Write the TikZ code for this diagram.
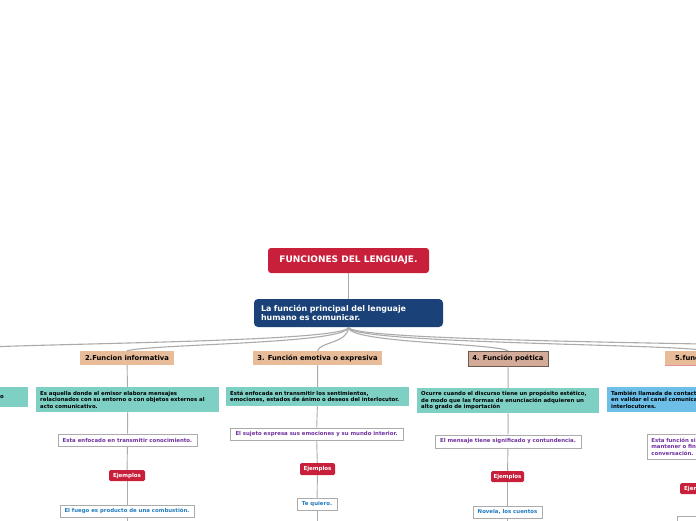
\documentclass[tikz,border=0pt]{standalone}
\usepackage{fontspec}
\setmainfont{DejaVu Sans}
\definecolor{cred}{HTML}{C8203A}
\definecolor{cnavy}{HTML}{1A4279}
\definecolor{cpeach}{HTML}{E8BC98}
\definecolor{cpoet}{HTML}{D4AB99}
\definecolor{cpoetborder}{HTML}{6B5A50}
\definecolor{cteal}{HTML}{7ECFC4}
\definecolor{csky}{HTML}{6DBFE8}
\definecolor{cpurple}{HTML}{7030A0}
\definecolor{cexblue}{HTML}{1F7BBF}
\definecolor{cline}{HTML}{ABABAB}
\definecolor{cshade}{HTML}{C8C8C8}
\begin{document}
\begin{tikzpicture}[x=1pt,y=-1pt,
  titlebox/.style={fill=cred, rounded corners=3pt, text=white, inner sep=0pt,
    font=\fontsize{9}{9}\selectfont\bfseries, minimum width=161pt, minimum height=25pt},
  mainbox/.style={fill=cnavy, rounded corners=4pt, text=white, inner xsep=7pt, inner ysep=0pt,
    font=\fontsize{7.9}{8.6}\selectfont\bfseries, align=left, text width=175pt, minimum height=28pt},
  funcbox/.style={fill=cpeach, inner sep=0pt, minimum height=14pt,
    font=\fontsize{6.8}{7}\selectfont\bfseries},
  poetbox/.style={fill=cpoet, draw=cpoetborder, line width=0.6pt, inner sep=0pt, minimum height=15pt,
    font=\fontsize{6.8}{7}\selectfont\bfseries},
  descbox/.style={fill=cteal, inner xsep=4pt, inner ysep=0pt, align=left,
    font=\fontsize{5.4}{6.6}\selectfont\bfseries},
  skybox/.style={descbox, fill=csky},
  notebox/.style={fill=white, draw=cline, line width=0.7pt, inner sep=0pt, text=cpurple,
    font=\fontsize{5.4}{6.6}\selectfont\bfseries},
  exlabel/.style={fill=cred, rounded corners=1.5pt, text=white, inner sep=0pt, minimum height=11pt,
    font=\fontsize{5.5}{6}\selectfont\bfseries},
  exbox/.style={fill=white, draw=cline, line width=0.7pt, inner sep=0pt, minimum height=12pt, text=cexblue,
    font=\fontsize{5.4}{6}\selectfont\bfseries},
  link/.style={draw=cline, line width=1.1pt},
  vlink/.style={draw=cline, line width=0.9pt}
]
\useasboundingbox (0,0) rectangle (696,520);
\clip (0,0) rectangle (696,520);
\fill[white] (0,0) rectangle (696,520);

% top
\node[titlebox] (title) at (348.5,260.5) {FUNCIONES DEL LENGUAJE.};
\node[mainbox] (main) at (348.5,313) {La función principal del lenguaje\\humano es comunicar.};

% functions
\coordinate (f1) at (-70,351);
\node[funcbox, minimum width=94pt] (f2) at (127,358) {2.Funcion informativa};
\node[funcbox, minimum width=129pt] (f3) at (317.5,358) {3. Función emotiva o expresiva};
\node[poetbox, minimum width=80pt] (f4) at (508,358.5) {4. Función poética};
\node[funcbox, minimum width=80pt, anchor=west] (f5) at (665,358) {5.función fática};
\draw[cred!50, line width=0.6pt] (f5.south west) -- (f5.south east);
\coordinate (f6) at (920,351);

% descriptions
\node[descbox, text width=24pt, minimum height=20pt, anchor=north west] (d1) at (-4,387) {o};
\node[descbox, text width=175pt, minimum height=25pt, anchor=north west] (d2) at (36,387)
  {Es aquella donde el emisor elabora mensajes\\relacionados con su entorno o con objetos externos al\\acto comunicativo.};
\node[descbox, text width=175pt, minimum height=19pt, anchor=north west] (d3) at (226,387)
  {Está enfocada en transmitir los sentimientos,\\emociones, estados de ánimo o deseos del interlocutor.};
\node[descbox, text width=174pt, minimum height=25pt, anchor=north west] (d4) at (417,388)
  {Ocurre cuando el discurso tiene un propósito estético,\\de modo que las formas de enunciación adquieren un\\alto grado de importación};
\node[skybox, text width=175pt, minimum height=25pt, anchor=north west] (d5) at (607,387)
  {También llamada de contacto, consiste\\en validar el canal comunicativo entre los\\interlocutores.};

% notes
\node[notebox, minimum width=139pt, minimum height=12pt] (n2) at (127.5,440) {Esta enfocado en transmitir conocimiento.};
\node[notebox, minimum width=173pt, minimum height=12pt] (n3) at (316.5,434) {El sujeto expresa sus emociones y su mundo interior.};
\node[notebox, minimum width=146pt, minimum height=13pt] (n4) at (508,441.5) {El mensaje tiene significado y contundencia.};
\node[notebox, inner xsep=4pt, align=left, text width=110pt, minimum height=25pt, anchor=north west] (n5) at (647,434)
  {Esta función sirve para iniciar,\\mantener o finalizar una\\conversación.};

% ejemplos
\node[exlabel, minimum width=36pt] (e2) at (127,475.5) {Ejemplos};
\node[exlabel, minimum width=35pt, minimum height=12pt] (e3) at (317.5,469) {Ejemplos};
\node[exlabel, minimum width=33pt] (e4) at (507.5,476.5) {Ejemplos};
\node[exlabel, minimum width=36pt, anchor=north west] (e5) at (680,483) {Ejemplos};

% examples
\node[exbox, minimum width=134pt] (x2) at (127,511) {El fuego es producto de una combustión.};
\node[exbox, minimum width=40pt] (x3) at (317,504) {Te quiero.};
\node[exbox, minimum width=69pt] (x4) at (507.5,512) {Novela, los cuentos};
\node[exbox, minimum width=60pt, anchor=north west] (x5) at (677,516) {};

\coordinate (b2) at (127,530);
\coordinate (b3) at (317,530);
\coordinate (b4) at (507.5,530);

% connectors
\draw[vlink] (title) -- (main);
\draw[link] (main.south) .. controls (348,344) and (-40,343) .. (f1);
\draw[link] (main.south) .. controls (348,344) and (150,344) .. (f2.north);
\draw[link] (main.south) .. controls (348,343) and (320,342) .. (f3.north);
\draw[link] (main.south) .. controls (348,343) and (492,343) .. (f4.north);
\draw[link] (main.south) .. controls (348,344) and (685,344) .. (f5.north);
\draw[link] (main.south) .. controls (348,344) and (880,343) .. (f6);

\draw[vlink] (f2) -- (d2);
\draw[vlink] (d2) -- (n2);
\draw[vlink] (n2) -- (e2);
\draw[vlink] (e2) -- (x2);
\draw[vlink] (x2) -- (b2);

\draw[vlink] (f3) -- (d3);
\draw[vlink] (d3) -- (n3);
\draw[vlink] (n3) -- (e3);
\draw[vlink] (e3) -- (x3);
\draw[vlink] (x3) -- (b3);

\draw[vlink] (f4) -- (d4);
\draw[vlink] (d4) -- (n4);
\draw[vlink] (n4) -- (e4);
\draw[vlink] (e4) -- (x4);
\draw[vlink] (x4) -- (b4);
\end{tikzpicture}
\end{document}
